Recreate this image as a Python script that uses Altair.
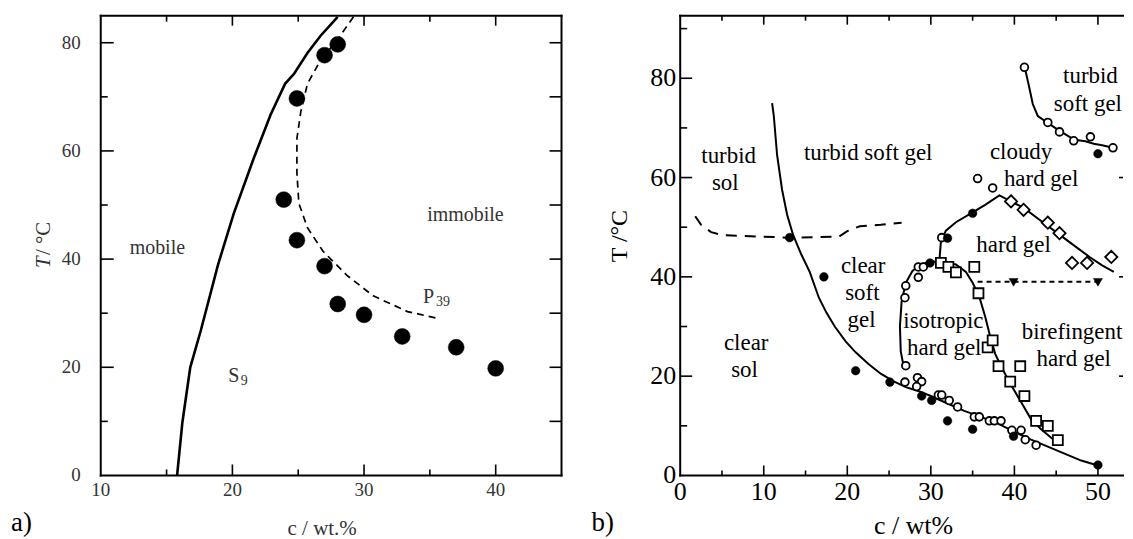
import altair as alt
import pandas as pd

FONT = "Liberation Serif, Times New Roman, serif"

# ---------------- panel a) data ----------------
a_solid_c = [15.8, 16.2, 16.8, 17.6, 18.9, 20.1, 21.6, 22.9, 24.0, 24.7, 25.7, 26.7, 28.0]
a_solid_T = [0.0, 9.8, 20.0, 26.8, 38.9, 48.4, 58.5, 66.7, 72.4, 74.3, 78.1, 81.3, 84.8]
a_dash_c = [29.2, 28.0, 26.7, 25.7, 25.2, 24.9, 24.9, 25.05, 25.7, 26.9, 28.7, 30.7, 33.3, 35.5]
a_dash_T = [84.8, 80.6, 76.8, 72.4, 67.3, 62.3, 55.9, 50.3, 45.8, 41.4, 37.0, 33.2, 30.3, 29.1]
a_dot_c = [28.0, 27.0, 24.9, 23.9, 24.9, 27.0, 28.0, 30.0, 32.9, 37.0, 40.0]
a_dot_T = [79.7, 77.7, 69.7, 51.0, 43.5, 38.7, 31.7, 29.7, 25.7, 23.7, 19.8]
a_text = ["mobile", "immobile", "S", "9", "P", "39"]
a_text_c = [14.3, 37.7, 20.1, 20.9, 34.9, 36.0]
a_text_T = [42.0, 48.2, 18.3, 17.4, 33.0, 32.1]
a_text_size = [20, 20, 20, 14, 20, 14]
a_xlabels = [10, 20, 30, 40]
a_ylabels = [0, 20, 40, 60, 80]
a_xtitle = "c / wt.%"
a_ytitle = ["T", " / °C"]

# ---------------- panel b) data ----------------
b_main_c = [11.0, 11.2, 11.6, 12.2, 12.8, 13.5, 14.5, 15.5, 16.6, 17.5, 18.5, 19.8, 21.0, 22.5,
            24.0, 25.5, 27.0, 28.5, 30.0, 32.0, 34.0, 36.0, 38.0, 40.0, 42.0, 44.0, 46.0, 48.0, 50.0]
b_main_T = [75.0, 72.5, 64.5, 57.5, 52.5, 48.5, 44.5, 41.0, 35.8, 32.8, 30.0, 27.0, 24.8, 22.5,
            20.5, 19.0, 17.8, 17.0, 16.0, 14.5, 13.0, 11.8, 10.5, 8.8, 7.2, 5.8, 4.4, 3.0, 2.0]
b_iso_c = [26.8, 26.4, 26.3, 26.5, 27.0, 27.8, 28.8, 30.0, 31.5, 33.0, 34.2, 35.0, 35.8, 36.5,
           37.1, 37.7, 38.5, 39.6, 40.8, 42.0, 43.2, 44.4, 45.3]
b_iso_T = [21.5, 25.0, 30.0, 35.0, 38.8, 41.2, 42.5, 43.1, 43.0, 42.5, 41.0, 38.8, 36.0, 32.0,
           28.0, 24.5, 21.7, 18.2, 14.8, 11.3, 9.3, 7.6, 6.5]
b_hard_c = [31.0, 31.2, 31.8, 33.0, 35.0, 36.5, 38.2, 39.6, 41.2, 43.0, 45.0, 47.0, 49.0, 50.5, 51.9]
b_hard_T = [42.8, 47.0, 49.3, 51.0, 53.0, 54.5, 56.4, 55.2, 53.8, 51.5, 49.0, 46.5, 44.0, 42.3, 41.0]
b_ts_c = [41.2, 41.4, 41.8, 42.2, 42.8, 44.0, 45.4, 47.2, 48.5, 49.5, 50.5, 51.8]
b_ts_T = [82.2, 81.0, 78.0, 74.8, 72.4, 71.0, 69.4, 67.6, 67.3, 66.8, 66.5, 66.0]
b_dash_c = [1.8, 2.5, 3.7, 5.0, 13.0, 19.0, 20.0, 21.5, 24.0, 26.5]
b_dash_T = [52.2, 50.5, 49.0, 48.4, 47.9, 48.1, 49.2, 50.2, 50.5, 50.9]
b_dotted_c = [35.6, 50.0]
b_dotted_T = [39.0, 39.0]
b_tri_c = [39.9, 50.0]
b_tri_T = [38.9, 38.9]
b_open_c = [27.0, 26.9, 28.4, 28.9, 28.3, 30.9, 31.3, 32.2, 33.2, 35.2, 35.8, 37.0, 37.6, 38.4,
            39.7, 40.8, 41.3, 42.6, 26.9, 27.0, 28.5, 29.1, 28.5, 31.3, 35.6, 37.4,
            41.2, 44.0, 45.4, 47.1, 49.1, 51.8]
b_open_T = [22.1, 18.8, 19.7, 18.9, 17.9, 16.2, 16.2, 15.1, 13.8, 11.8, 11.8, 11.0, 11.0, 11.0,
            9.1, 9.1, 7.2, 6.1, 35.8, 38.2, 42.0, 42.0, 39.9, 47.9, 59.8, 57.9,
            82.2, 71.1, 69.2, 67.4, 68.2, 66.0]
b_sq_c = [31.2, 32.1, 33.0, 35.2, 35.7, 36.8, 37.4, 38.1, 39.5, 40.7, 41.2, 42.6, 44.0, 45.2]
b_sq_T = [42.8, 42.0, 40.9, 42.0, 36.7, 25.8, 27.2, 22.0, 18.9, 22.0, 16.0, 11.0, 10.0, 7.1]
b_dia_c = [39.6, 41.1, 44.0, 45.4, 46.9, 48.7, 51.6]
b_dia_T = [55.2, 53.5, 50.9, 48.8, 42.8, 42.8, 44.0]
b_fill_c = [13.1, 17.2, 21.0, 25.1, 28.9, 30.1, 32.0, 35.0, 39.9, 50.0, 29.9, 32.0, 35.0, 50.0]
b_fill_T = [47.9, 40.0, 21.1, 18.8, 16.0, 15.1, 11.0, 9.3, 7.9, 2.1, 42.8, 47.8, 52.8, 64.8]
b_text = ["turbid", "sol", "turbid soft gel", "cloudy", "hard gel", "turbid", "soft gel",
          "hard gel", "clear", "soft", "gel", "isotropic", "hard gel", "birefingent",
          "hard gel", "clear", "sol"]
b_text_c = [5.8, 5.4, 22.5, 40.8, 43.2, 49.1, 48.8, 39.9, 21.9, 21.8, 21.7, 31.5, 31.6,
            46.9, 47.1, 7.9, 7.7]
b_text_T = [64.3, 58.8, 65.0, 65.1, 59.7, 80.5, 74.8, 46.4, 42.2, 36.7, 31.3, 31.2, 25.7,
            28.9, 23.4, 26.6, 21.2]
b_xlabels = [0, 10, 20, 30, 40, 50]
b_ylabels = [0, 20, 40, 60, 80]
b_xtitle = "c / wt%"
b_ytitle = "T /°C"

# ---------------- geometry ----------------
WA, HA = 462, 461
WB, HB = 444, 461
sxa = alt.Scale(domain=[10, 45], nice=False, zero=False)
sya = alt.Scale(domain=[0, 85], nice=False, zero=False)
sxb = alt.Scale(domain=[0, 53], nice=False, zero=False)
syb = alt.Scale(domain=[0, 92.6], nice=False, zero=False)


def df_xy(cs, ts):
    d = pd.DataFrame({"c": cs, "T": ts})
    d["i"] = range(len(d))
    return d


def line(cs, ts, sx, sy, width=2.0, dash=None):
    kw = dict(color="black", strokeWidth=width)
    if dash:
        kw["strokeDash"] = dash
    return alt.Chart(df_xy(cs, ts)).mark_line(**kw).encode(
        x=alt.X("c:Q", scale=sx, axis=None),
        y=alt.Y("T:Q", scale=sy, axis=None),
        order=alt.Order("i:Q"),
    )


def points(cs, ts, sx, sy, shape, size, filled, sw=1.6):
    return alt.Chart(df_xy(cs, ts)).mark_point(
        shape=shape, size=size, filled=True, opacity=1,
        fill="black" if filled else "white", stroke="black", strokeWidth=sw,
    ).encode(
        x=alt.X("c:Q", scale=sx, axis=None),
        y=alt.Y("T:Q", scale=sy, axis=None),
    )


def texts(cs, ts, labels, sizes, sx, sy, color):
    d = pd.DataFrame({"c": cs, "T": ts, "t": labels, "s": sizes})
    return alt.Chart(d).mark_text(font=FONT, color=color, align="center", baseline="middle").encode(
        x=alt.X("c:Q", scale=sx, axis=None),
        y=alt.Y("T:Q", scale=sy, axis=None),
        text="t:N",
        size=alt.Size("s:Q", scale=None, legend=None),
    )


def xlabels(vals, sx, H, offset, size, color):
    d = pd.DataFrame({"v": vals})
    d["t"] = d["v"].astype(str)
    return alt.Chart(d).mark_text(font=FONT, fontSize=size, color=color, align="center",
                                  baseline="top").encode(
        x=alt.X("v:Q", scale=sx, axis=None), y=alt.value(H + offset), text="t:N")


def ylabels(vals, sy, offset, size, color):
    d = pd.DataFrame({"v": vals})
    d["t"] = d["v"].astype(str)
    return alt.Chart(d).mark_text(font=FONT, fontSize=size, color=color, align="right",
                                  baseline="middle").encode(
        y=alt.Y("v:Q", scale=sy, axis=None), x=alt.value(-offset), text="t:N")


def label(txt, px, py, size, color="black", angle=0, align="center", baseline="middle",
          style="normal"):
    return alt.Chart(pd.DataFrame({"t": [txt]})).mark_text(
        font=FONT, fontSize=size, align=align, baseline=baseline, color=color, angle=angle,
        fontStyle=style,
    ).encode(text="t:N", x=alt.value(px), y=alt.value(py))


def ticks(vals, axis, side, length, scale, W, H, sw=1.6):
    d = pd.DataFrame({"v": vals})
    base = alt.Chart(d).mark_rule(color="black", strokeWidth=sw)
    if axis == "x":
        enc = dict(x=alt.X("v:Q", scale=scale, axis=None))
        if side == "bottom":
            enc.update(y=alt.value(H), y2=alt.value(H - length))
        else:
            enc.update(y=alt.value(0), y2=alt.value(length))
    else:
        enc = dict(y=alt.Y("v:Q", scale=scale, axis=None))
        if side == "left":
            enc.update(x=alt.value(0), x2=alt.value(length))
        else:
            enc.update(x=alt.value(W), x2=alt.value(W - length))
    return base.encode(**enc)


def frame(W, H, sides):
    d = pd.DataFrame({"k": [0]})
    out = []
    for s in sides:
        m = alt.Chart(d).mark_rule(color="black", strokeWidth=2, strokeCap="square")
        if s == "top":
            out.append(m.encode(x=alt.value(0), x2=alt.value(W), y=alt.value(0)))
        elif s == "bottom":
            out.append(m.encode(x=alt.value(0), x2=alt.value(W), y=alt.value(H)))
        elif s == "left":
            out.append(m.encode(y=alt.value(0), y2=alt.value(H), x=alt.value(0)))
        else:
            out.append(m.encode(y=alt.value(0), y2=alt.value(H), x=alt.value(W)))
    return out


# ---------------- panel a ----------------
pa_layers = [
    line(a_solid_c, a_solid_T, sxa, sya, width=2.6),
    line(a_dash_c, a_dash_T, sxa, sya, width=1.7, dash=[7, 5]),
    points(a_dot_c, a_dot_T, sxa, sya, "circle", 255, True, sw=0.5),
    texts(a_text_c, a_text_T, a_text, a_text_size, sxa, sya, "#333"),
    ticks([15, 25, 35], "x", "bottom", 6, sxa, WA, HA),
    ticks([20, 30, 40], "x", "bottom", 11, sxa, WA, HA),
    ticks([15, 25, 35], "x", "top", 6, sxa, WA, HA),
    ticks([20, 30, 40], "x", "top", 10, sxa, WA, HA),
    ticks([10, 30, 50, 70], "y", "left", 7, sya, WA, HA),
    ticks([20, 40, 60, 80], "y", "left", 13, sya, WA, HA),
    ticks([10, 20, 30, 40, 50, 60, 70, 80], "y", "right", 12, sya, WA, HA),
    *frame(WA, HA, ["top", "bottom", "left", "right"]),
    xlabels(a_xlabels, sxa, HA, 6, 19, "#333"),
    ylabels(a_ylabels, sya, 20, 19, "#333"),
    label(a_xtitle, 222, 515, 21, "#333"),
    label(a_ytitle[0], -57, 253, 21, "#333", angle=270, align="left", style="italic"),
    label(a_ytitle[1], -57, 240, 21, "#333", angle=270, align="left"),
    label("a)", -90, 517, 27, align="left", baseline="alphabetic"),
]
pa = alt.layer(*pa_layers).properties(width=WA, height=HA)

# ---------------- panel b ----------------
pb_layers = [
    line(b_main_c, b_main_T, sxb, syb, width=2.0),
    line(b_iso_c, b_iso_T, sxb, syb, width=2.0),
    line(b_hard_c, b_hard_T, sxb, syb, width=2.0),
    line(b_ts_c, b_ts_T, sxb, syb, width=2.0),
    line(b_dash_c, b_dash_T, sxb, syb, width=2.0, dash=[11, 8]),
    line(b_dotted_c, b_dotted_T, sxb, syb, width=2.0, dash=[5, 4]),
    points(b_open_c, b_open_T, sxb, syb, "circle", 60, False, sw=1.8),
    points(b_sq_c, b_sq_T, sxb, syb, "square", 100, False, sw=1.8),
    points(b_dia_c, b_dia_T, sxb, syb, "diamond", 150, False, sw=1.8),
    points(b_fill_c, b_fill_T, sxb, syb, "circle", 75, True, sw=0.5),
    points(b_tri_c, b_tri_T, sxb, syb, "triangle-down", 80, True, sw=0.5),
    texts(b_text_c, b_text_T, b_text, [23] * len(b_text), sxb, syb, "black"),
    ticks([5, 15, 25, 35, 45], "x", "bottom", 5, sxb, WB, HB),
    ticks([10, 20, 30, 40, 50], "x", "bottom", 10, sxb, WB, HB),
    ticks([5, 15, 25, 35, 45], "x", "top", 5, sxb, WB, HB),
    ticks([10, 20, 30, 40, 50], "x", "top", 9, sxb, WB, HB),
    ticks([10, 30, 50, 70, 90], "y", "left", 7, syb, WB, HB),
    ticks([20, 40, 60, 80], "y", "left", 12, syb, WB, HB),
    ticks([20, 40, 60], "y", "right", 4, syb, WB, HB),
    *frame(WB, HB, ["top", "bottom", "left"]),
    xlabels(b_xlabels, sxb, HB, 4, 26, "black"),
    ylabels(b_ylabels, syb, 4, 26, "black"),
    label(b_xtitle, 234, 512, 26),
    label(b_ytitle, -60, 221, 24, angle=270),
    label("b)", -89, 517, 27, align="left", baseline="alphabetic"),
]
pb = alt.layer(*pb_layers).properties(width=WB, height=HB)

chart = alt.hconcat(pa, pb, spacing=119, bounds="flush").properties(
    padding={"left": 2, "top": 2, "right": 0, "bottom": 0}
).configure_view(stroke="transparent")

chart.save("out.html", embed_options={"renderer": "svg", "actions": False})
